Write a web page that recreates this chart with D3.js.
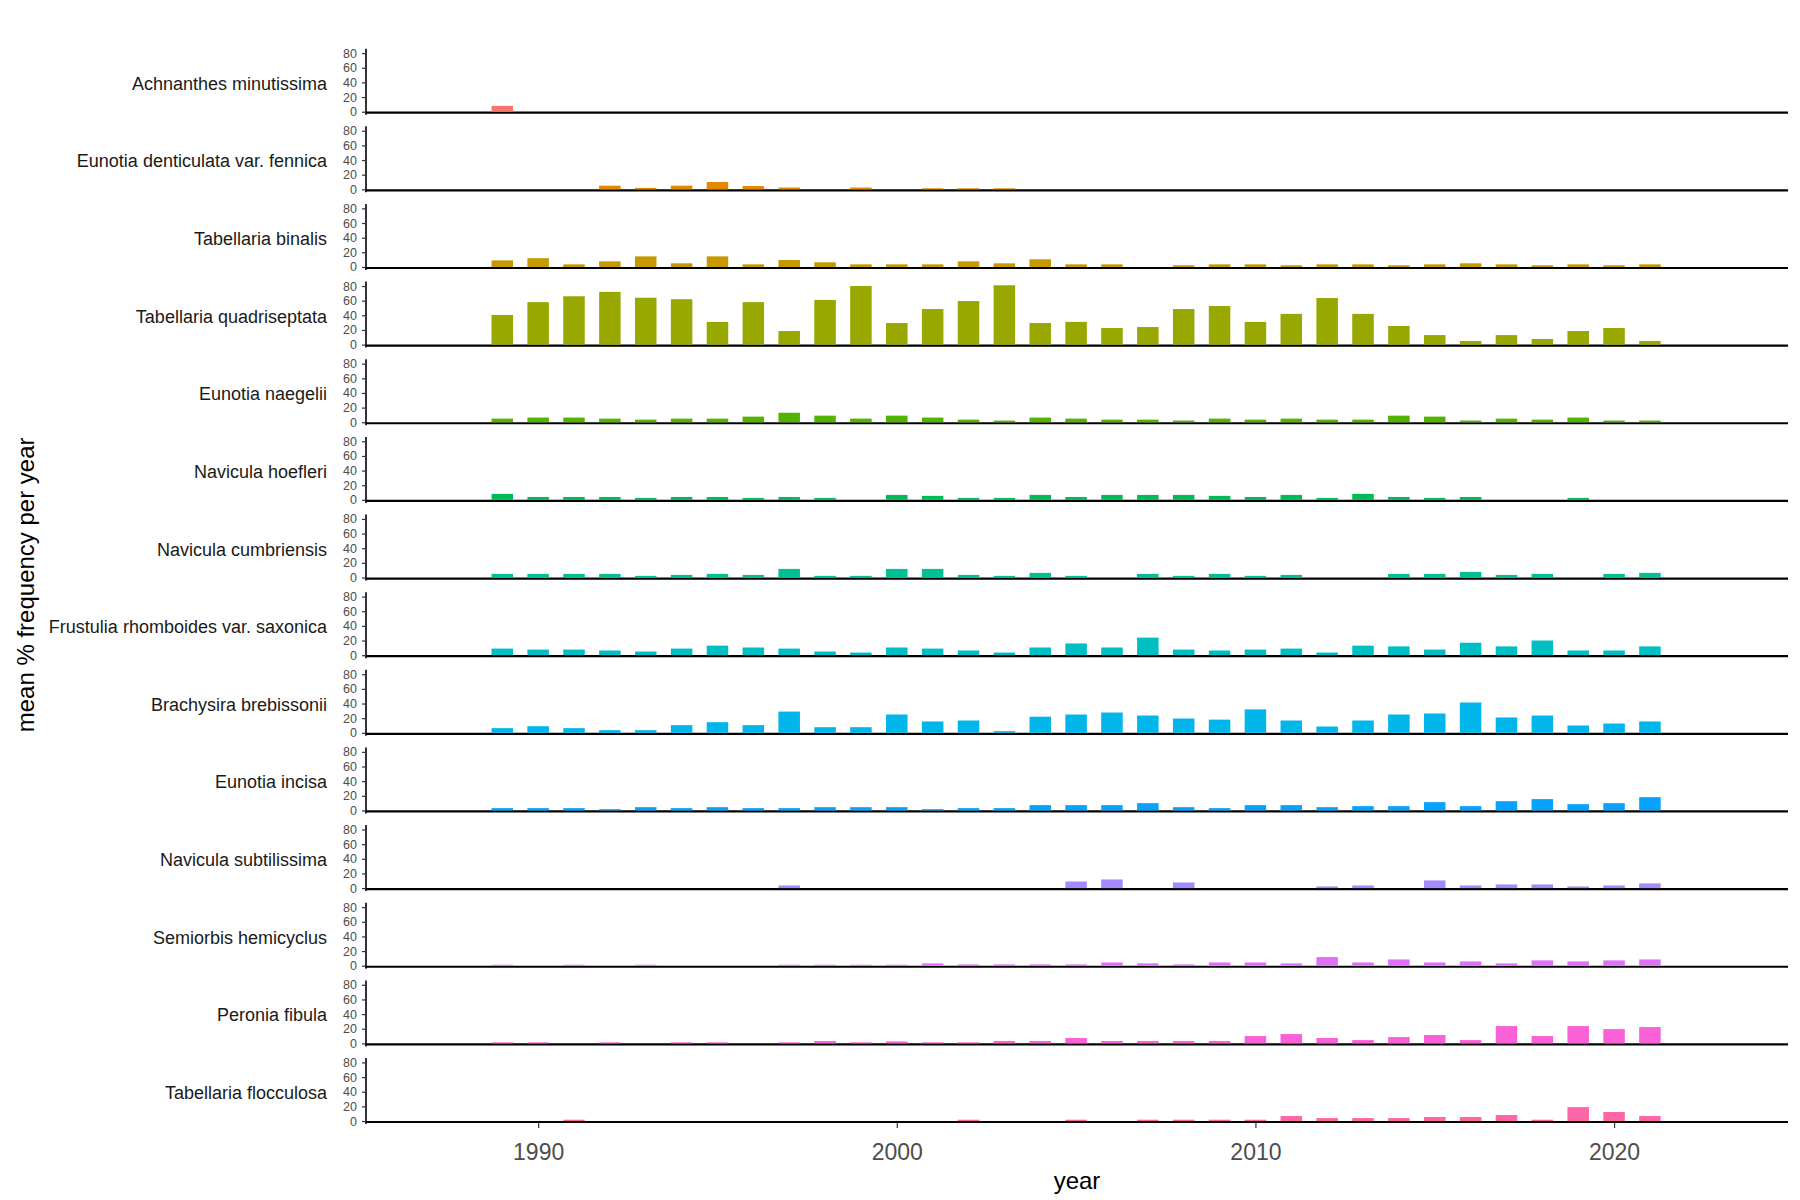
<!DOCTYPE html>
<html>
<head>
<meta charset="utf-8">
<script src="https://cdn.jsdelivr.net/npm/d3@7"></script>
<style>
  body { margin: 0; background: #fff; }
  text { font-family: "Liberation Sans", Arial, sans-serif; }
</style>
</head>
<body>
<svg id="chart"></svg>
<script>
const years = [1989, 1990, 1991, 1992, 1993, 1994, 1995, 1996, 1997, 1998, 1999, 2000, 2001,
  2002, 2003, 2004, 2005, 2006, 2007, 2008, 2009, 2010, 2011, 2012, 2013, 2014, 2015, 2016,
  2017, 2018, 2019, 2020, 2021];

const speciesNames = [
  'Achnanthes minutissima',
  'Eunotia denticulata var. fennica',
  'Tabellaria binalis',
  'Tabellaria quadriseptata',
  'Eunotia naegelii',
  'Navicula hoefleri',
  'Navicula cumbriensis',
  'Frustulia rhomboides var. saxonica',
  'Brachysira brebissonii',
  'Eunotia incisa',
  'Navicula subtilissima',
  'Semiorbis hemicyclus',
  'Peronia fibula',
  'Tabellaria flocculosa'
];

// mean % frequency per year, one value per entry of `years` (null = not recorded)
const achnanthesMinutissima = [8, null, null, null, null, null, null, null, null, null, null,
  null, null, null, null, null, null, null, null, null, null, null, null, null, null, null,
  null, null, null, null, null, null, null];
const eunotiaDenticulata = [null, null, null, 5, 2, 5, 10, 4.5, 2.5, null, 2.5, null, 1.5,
  1.5, 1.5, null, null, null, null, null, null, null, null, null, null, null, null, null,
  null, null, null, null, null];
const tabellariaBinalis = [9, 12, 3.6, 7.7, 14.5, 5, 14.5, 3.6, 9.5, 6.4, 3.6, 3.6, 3.6, 7.7,
  5, 10.5, 3.6, 3.6, null, 2.3, 3.6, 3.6, 2.3, 3.6, 3.6, 2.3, 3.6, 5, 3.6, 2.3, 3.6, 2.3, 3.6];
const tabellariaQuadriseptata = [40.5, 58, 66, 72, 64, 62, 31, 58, 18.6, 61, 80, 29.5, 48.6,
  59.5, 81, 29.5, 31, 22.7, 24, 48.6, 52.7, 31, 42, 63.6, 42, 25.5, 13, 5, 13, 7.7, 18.6,
  22.7, 5];
const eunotiaNaegelii = [5, 6.4, 6.4, 5, 3.6, 5, 5, 7.7, 13, 9, 5, 9, 6.4, 3.6, 2.3, 6.4, 5,
  3.6, 3.6, 2.3, 5, 3.6, 5, 3.6, 3.6, 9, 7.7, 2.3, 5, 3.6, 6.4, 2.3, 2.3];
const naviculaHoefleri = [8.2, 4, 4, 4, 2.7, 4, 4, 2.7, 4, 2.7, null, 6.8, 5.5, 2.7, 2.7, 6.8,
  4, 6.8, 6.8, 6.8, 5.5, 4, 6.8, 2.7, 8.2, 4, 2.7, 4, null, null, 2.7, null, null];
const naviculaCumbriensis = [5, 5, 5, 5, 2.3, 3.6, 5, 3.6, 11.8, 2.3, 2.3, 11.8, 11.8, 3.6,
  2.3, 6.4, 2.3, null, 5, 2.3, 5, 2.3, 3.6, null, null, 5, 5, 7.7, 3.6, 5, null, 5, 6.4];
const frustuliaRhomboides = [9, 7.7, 7.7, 6.4, 5, 9, 13, 10.5, 9, 5, 3.6, 10.5, 9, 6.4, 3.6,
  10.5, 16, 10.5, 24, 7.7, 6.4, 7.7, 9, 3.6, 13, 12, 7.7, 17, 12, 20, 6.4, 6.4, 12];
const brachysiraBrebissonii = [6.4, 9, 6.4, 3.6, 3.6, 10.5, 14.5, 10.5, 29, 7.7, 7.7, 25,
  15.5, 16.8, 2.3, 22, 25, 27.7, 23.6, 19.5, 18, 32, 16.8, 8.6, 16.8, 25, 26.4, 41.4, 21,
  23.6, 10, 12.7, 15.5];
const eunotiaIncisa = [3.2, 3.2, 3.2, 1.8, 4.5, 3.2, 4.5, 3.2, 3.2, 4.5, 4.5, 4.5, 1.8, 3.2,
  3.2, 7.3, 7.3, 7.3, 10, 4.5, 3.2, 7.3, 7.3, 4.5, 5.9, 5.9, 11.4, 5.9, 12.7, 15.5, 8.6, 10,
  18.2];
const naviculaSubtilissima = [null, null, null, null, null, null, null, null, 3.6, null, null,
  null, null, null, null, null, 9, 11.8, null, 7.7, null, null, null, 2.3, 3.6, null, 10.5,
  3.6, 5, 5, 2.3, 3.6, 6.4];
const semiorbisHemicyclus = [1.4, null, 1.4, null, 1.4, null, null, null, 1.4, 1.4, 1.4, 1.4,
  3.2, 1.8, 1.8, 1.8, 1.8, 4.5, 3.2, 1.8, 4.5, 4.5, 3.2, 11.8, 4.5, 8.6, 4.5, 5.9, 3.2, 7.3,
  5.9, 7.3, 8.6];
const peroniaFibula = [1.4, 1.4, null, 1.4, null, 1.4, 1.4, null, 1.4, 3.2, 1.4, 2.7, 1.4, 1.4,
  3.2, 3.2, 7.3, 3.2, 3.2, 3.2, 3.2, 10, 12.7, 7.3, 4.5, 8.6, 11.4, 4.5, 23.6, 10, 23.6, 19.5,
  22.3];
const tabellariaFlocculosa = [null, null, 1.8, null, null, null, null, null, null, null, null,
  null, null, 1.8, null, null, 1.8, null, 1.8, 1.8, 1.8, 1.8, 6.8, 4, 4, 4, 5.5, 5.5, 8.2,
  1.8, 19, 12.3, 6.8];

const seriesValues = [achnanthesMinutissima, eunotiaDenticulata, tabellariaBinalis,
  tabellariaQuadriseptata, eunotiaNaegelii, naviculaHoefleri, naviculaCumbriensis,
  frustuliaRhomboides, brachysiraBrebissonii, eunotiaIncisa, naviculaSubtilissima,
  semiorbisHemicyclus, peroniaFibula, tabellariaFlocculosa];

const yTicks = [0, 20, 40, 60, 80];
const xTicks = [1990, 2000, 2010, 2020];

// ggplot-style hue palette (polar Luv, c = 100, l = 65)
function hueColor(h) {
  const L = 65, C = 100, hr = h * Math.PI / 180;
  const U = C * Math.cos(hr), V = C * Math.sin(hr);
  const un = 0.1978398, vn = 0.4683363;
  const Y = Math.pow((L + 16) / 116, 3);
  const u = U / (13 * L) + un, v = V / (13 * L) + vn;
  const X = 9 * Y * u / (4 * v);
  const Z = -X / 3 - 5 * Y + 3 * Y / v;
  const g = t => {
    t = t > 0.00304 ? 1.055 * Math.pow(t, 1 / 2.4) - 0.055 : 12.92 * t;
    return Math.round(Math.max(0, Math.min(1, t)) * 255);
  };
  return d3.rgb(
    g(3.240479 * X - 1.53715 * Y - 0.498535 * Z),
    g(-0.969256 * X + 1.875992 * Y + 0.041556 * Z),
    g(0.055648 * X - 0.204043 * Y + 1.057311 * Z)
  ).formatHex();
}

const n = speciesNames.length;
const color = d3.scaleOrdinal()
  .domain(speciesNames)
  .range(d3.range(n).map(i => hueColor(15 + i * 360 / n)));

const width = 1800, height = 1200;
const svg = d3.select('#chart')
  .attr('width', width)
  .attr('height', height);

const x = d3.scaleLinear()
  .domain([1985.2, 2024.85])
  .range([366, 1788]);

const panelHeight = 63;
const panelStep = 77.64;
const firstTop = 48.7;

const y = d3.scaleLinear()
  .domain([0, 86])
  .range([panelHeight, 0]);

const barHalf = 0.3;

speciesNames.forEach((name, i) => {
  const g = svg.append('g')
    .attr('transform', `translate(0,${firstTop + i * panelStep})`);

  // baseline (sits just under the zero line so tiny bars stay visible)
  g.append('line')
    .attr('x1', x.range()[0] - 0.8)
    .attr('x2', x.range()[1])
    .attr('y1', y(0) + 1)
    .attr('y2', y(0) + 1)
    .attr('stroke', '#000')
    .attr('stroke-width', 2.2);

  const rows = years
    .map((yr, j) => ({ year: yr, value: seriesValues[i][j] }))
    .filter(d => d.value != null);

  g.selectAll('rect')
    .data(rows)
    .join('rect')
    .attr('x', d => x(d.year - barHalf))
    .attr('width', d => x(d.year + barHalf) - x(d.year - barHalf))
    .attr('y', d => y(d.value))
    .attr('height', d => y(0) - y(d.value))
    .attr('fill', color(name));

  // y axis
  const yAxis = g.append('g')
    .attr('transform', `translate(${x.range()[0]},0)`)
    .call(d3.axisLeft(y).tickValues(yTicks).tickSize(4).tickSizeOuter(0).tickPadding(5));
  yAxis.select('.domain')
    .attr('d', `M0,0V${y(0) + 3}`)
    .attr('stroke', '#000').attr('stroke-width', 1.6);
  yAxis.selectAll('.tick line').attr('stroke', '#333').attr('stroke-width', 1.2);
  yAxis.selectAll('.tick text')
    .attr('fill', '#4d4d4d')
    .style('font-size', '12.5px')
    .style('font-family', '"Liberation Sans", Arial, sans-serif');

  // species label
  g.append('text')
    .attr('x', 327)
    .attr('y', y(0) - 22)
    .attr('text-anchor', 'end')
    .attr('fill', '#1a1a1a')
    .style('font-size', '18px')
    .text(name);

  if (i === n - 1) {
    const xAxis = g.append('g')
      .attr('transform', `translate(0,${y(0) + 2})`)
      .call(d3.axisBottom(x).tickValues(xTicks).tickFormat(d3.format('d'))
        .tickSize(5).tickSizeOuter(0).tickPadding(16));
    xAxis.select('.domain').remove();
    xAxis.selectAll('.tick line').attr('stroke', '#333').attr('stroke-width', 1.2);
    xAxis.selectAll('.tick text')
      .attr('fill', '#4d4d4d')
      .style('font-size', '23px')
      .style('font-family', '"Liberation Sans", Arial, sans-serif');
  }
});

// axis titles
const plotMid = (x.range()[0] + x.range()[1]) / 2;
svg.append('text')
  .attr('x', plotMid)
  .attr('y', 1189)
  .attr('text-anchor', 'middle')
  .attr('fill', '#000')
  .style('font-size', '24px')
  .text('year');

const yMid = firstTop + ((n - 1) * panelStep + panelHeight) / 2;
svg.append('text')
  .attr('transform', `translate(34,${yMid}) rotate(-90)`)
  .attr('text-anchor', 'middle')
  .attr('fill', '#000')
  .style('font-size', '24px')
  .text('mean % frequency per year');
</script>
</body>
</html>
